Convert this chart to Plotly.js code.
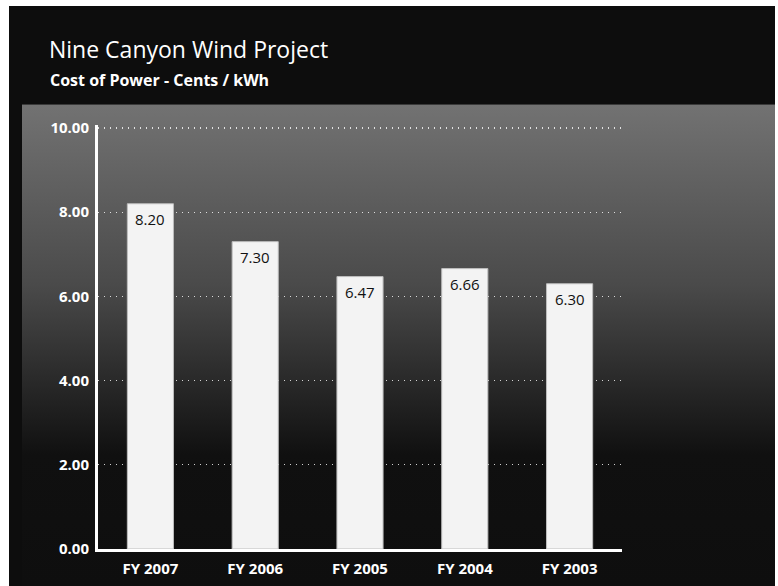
<!DOCTYPE html>
<html>
<head>
<meta charset="utf-8">
<script src="https://cdn.plot.ly/plotly-3.0.1.min.js"></script>
<style>
  html, body { margin: 0; padding: 0; background: #ffffff; width: 778px; height: 586px; overflow: hidden; }
  #frame { position: absolute; left: 9px; top: 6px; width: 766px; height: 580px; background: #0d0d0d; }
  #panel { position: absolute; left: 13px; top: 98px; width: 753px; height: 482px;
           border-top: 1px solid #3a3a3a;
           background: linear-gradient(to bottom, #727272 0px, #4a4a4a 180px, #101010 350px, #0e0e0e 482px); }
  #chart { position: absolute; left: 0; top: 0; width: 766px; height: 580px; }
</style>
</head>
<body>
<div id="frame">
  <div id="panel"></div>
  <div id="chart"></div>
</div>
<script>
const categories = ["FY 2007", "FY 2006", "FY 2005", "FY 2004", "FY 2003"];
const costValues = [8.20, 7.30, 6.47, 6.66, 6.30];
const yTickVals = [0, 2, 4, 6, 8, 10];
const yTickText = ["0.00", "2.00", "4.00", "6.00", "8.00", "10.00"];
const chartTitle = "Nine Canyon Wind Project";
const chartSubtitle = "Cost of Power - Cents / kWh";

const smallFont = "Open Sans, DejaVu Sans, sans-serif";
const titleFont = "Open Sans, DejaVu Sans, sans-serif";

const trace = {
  type: "bar",
  x: categories,
  y: costValues,
  width: 0.44,
  marker: { color: "#f3f3f3", line: { color: "#bdbdbd", width: 1 } },
  hoverinfo: "x+y"
};

const valueLabels = categories.map((c, i) => ({
  x: c, y: costValues[i], xref: "x", yref: "y",
  text: costValues[i].toFixed(2),
  showarrow: false, yanchor: "top", yshift: -3,
  font: { family: smallFont, size: 15, color: "#111111" }
}));

const layout = {
  width: 766, height: 580,
  paper_bgcolor: "rgba(0,0,0,0)",
  plot_bgcolor: "rgba(0,0,0,0)",
  margin: { l: 88.5, r: 152.5, t: 119, b: 37, pad: 0 },
  showlegend: false,
  bargap: 0.56,
  xaxis: {
    type: "category",
    showline: true, linecolor: "#ffffff", linewidth: 3,
    showgrid: false, zeroline: false, ticks: "", ticklabelstandoff: 4,
    tickfont: { family: smallFont, size: 15, color: "#ffffff", weight: "bold" },
    fixedrange: true
  },
  yaxis: {
    range: [0, 10.07],
    tickvals: yTickVals, ticktext: yTickText,
    showline: true, linecolor: "#ffffff", linewidth: 3,
    showgrid: true, gridcolor: "rgba(255,255,255,0.8)", griddash: "1px,5px", gridwidth: 1.3,
    zeroline: false, ticks: "", ticklabelstandoff: 3,
    tickfont: { family: smallFont, size: 15, color: "#ffffff", weight: "bold" },
    fixedrange: true
  },
  annotations: [
    { xref: "paper", yref: "paper", x: -0.098, y: 1.18, xanchor: "left", yanchor: "middle",
      text: chartTitle, showarrow: false,
      font: { family: titleFont, size: 23, color: "#ffffff" } },
    { xref: "paper", yref: "paper", x: -0.096, y: 1.105, xanchor: "left", yanchor: "middle",
      text: "<b>" + chartSubtitle + "</b>", showarrow: false,
      font: { family: titleFont, size: 16, color: "#ffffff" } }
  ].concat(valueLabels)
};

Plotly.newPlot("chart", [trace], layout, { displayModeBar: false, staticPlot: true });
</script>
</body>
</html>
